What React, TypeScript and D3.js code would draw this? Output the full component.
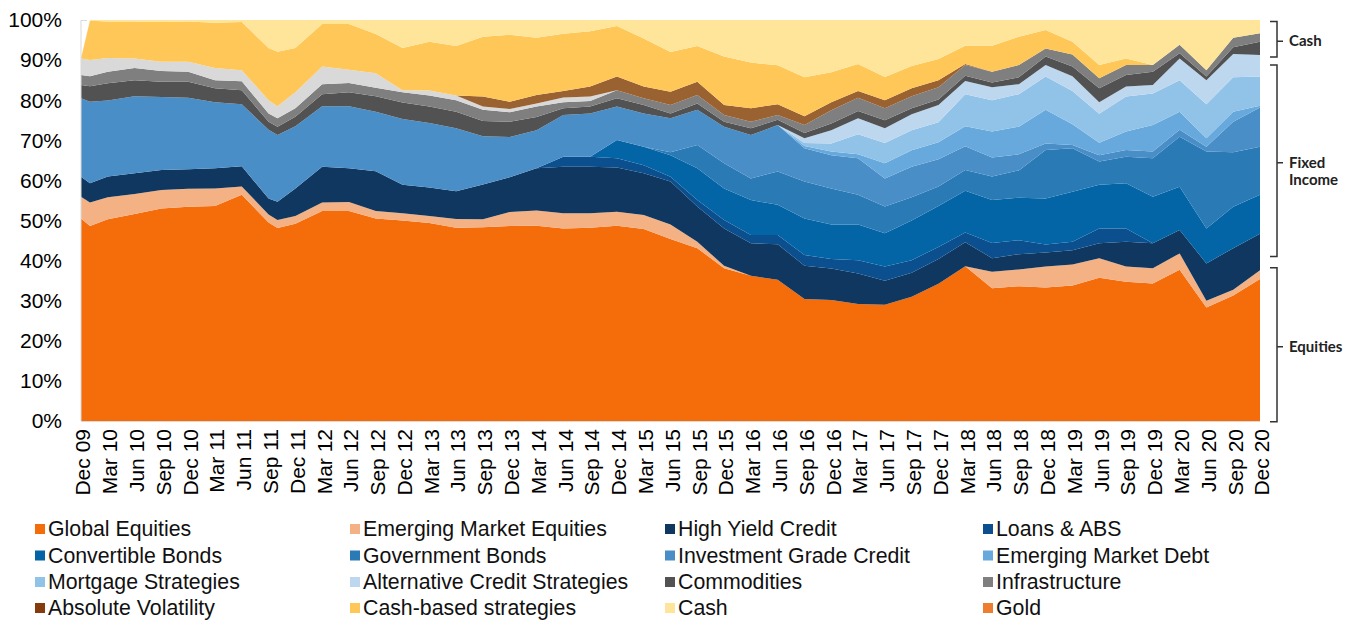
import React from 'react';
import * as d3 from 'd3';

// month index since Dec 09 for each data point
const MONTHS = [0,1,3,6,9,12,15,18,21,22,24,27,30,33,36,39,42,45,48,51,54,57,60,63,66,69,72,75,78,81,84,87,90,93,96,99,102,105,108,111,114,117,120,123,126,129,132];

const TICK_LABELS = ['Dec 09','Mar 10','Jun 10','Sep 10','Dec 10','Mar 11','Jun 11','Sep 11','Dec 11','Mar 12','Jun 12','Sep 12','Dec 12','Mar 13','Jun 13','Sep 13','Dec 13','Mar 14','Jun 14','Sep 14','Dec 14','Mar 15','Jun 15','Sep 15','Dec 15','Mar 16','Jun 16','Sep 16','Dec 16','Mar 17','Jun 17','Sep 17','Dec 17','Mar 18','Jun 18','Sep 18','Dec 18','Mar 19','Jun 19','Sep 19','Dec 19','Mar 20','Jun 20','Sep 20','Dec 20'];
const Y_TICKS = [0,10,20,30,40,50,60,70,80,90,100];

const GLOBAL_EQUITIES = [50.5,48.6,50.3,51.6,53.0,53.4,53.6,56.4,49.5,48.1,49.2,52.4,52.4,50.5,50.0,49.4,48.2,48.3,48.6,48.7,48.0,48.2,48.7,47.9,45.4,43.1,38.1,36.2,35.2,30.4,30.2,29.2,29.0,31.0,34.2,38.6,33.1,33.6,33.3,33.8,35.7,34.7,34.3,37.7,28.3,31.3,35.4];
const EM_EQUITIES = [5.4,5.9,5.5,5.0,4.6,4.5,4.4,2.1,2.0,2.0,1.9,2.1,2.2,1.9,1.8,1.7,2.2,2.0,3.5,3.8,3.8,3.6,3.5,3.5,3.6,1.6,0.6,0,0,0,0,0,0,0,0,0,4.1,4.2,5.2,5.2,4.9,3.8,3.8,4.1,1.7,1.4,2.2];
const HIGH_YIELD = [5.0,4.8,5.2,5.2,5.0,4.9,5.0,5.0,4.0,4.6,6.9,8.9,8.4,9.9,7.1,7.1,6.9,8.7,8.7,10.5,11.6,11.6,11.0,10.4,10.7,8.8,9.3,8.1,8.9,8.3,7.8,7.6,6.0,6.0,6.2,6.0,3.4,3.8,3.5,3.6,3.7,6.2,6.2,5.8,9.3,10.4,9.1];
const LOANS_ABS = [0,0,0,0,0,0,0,0,0,0,0,0,0,0,0,0,0,0,0,0,2.5,2.5,2.3,2.0,1.2,1.6,2.1,2.1,2.3,2.7,2.4,3.3,3.5,3.1,3.0,2.4,3.8,3.5,2.0,2.1,3.7,3.3,0,0,0,0,0];
const CONVERTIBLES = [0,0,0,0,0,0,0,0,0,0,0,0,0,0,0,0,0,0,0,0,0,0,4.6,4.6,5.4,7.9,7.9,8.7,7.5,9.1,8.6,8.9,8.3,9.9,10.2,10.4,10.7,10.6,11.5,12.5,10.9,11.3,11.6,10.8,8.7,10.3,9.7];
const GOV_BONDS = [0,0,0,0,0,0,0,0,0,0,0,0,0,0,0,0,0,0,0,0,0,0,0,0,0.7,5.8,6.3,5.4,8.3,9.2,9.0,7.4,6.7,5.8,4.9,5.2,5.9,6.8,12.1,10.8,5.8,6.6,9.6,12.5,19.2,13.6,12.0];
const IG_CREDIT = [19.6,20.3,18.9,19.2,18.2,17.8,16.5,15.5,17.1,16.6,15.5,15.1,15.5,14.8,16.4,16.1,15.7,12.0,10.0,9.5,10.4,10.8,8.3,8.3,8.5,8.8,9.1,10.8,11.6,8.3,8.3,9.1,7.0,7.6,6.8,5.9,4.7,4.0,1.6,0.8,1.6,1.7,1.7,1.7,1.2,7.6,9.8];
const EM_DEBT = [0,0,0,0,0,0,0,0,0,0,0,0,0,0,0,0,0,0,0,0,0,0,0,0,0,0,0,0,0,0.6,0.9,1.0,3.8,4.1,4.2,5.0,6.5,6.9,8.4,5.2,3.1,4.6,6.6,4.5,2.1,2.5,0.4];
const MORTGAGE = [0,0,0,0,0,0,0,0,0,0,0,0,0,0,0,0,0,0,0,0,0,0,0,0,0,0,0,0,0,0.7,2.0,5.0,5.0,5.0,5.0,8.0,7.8,8.1,8.3,8.3,7.2,8.7,7.9,7.9,8.5,8.6,7.3];
const ALT_CREDIT = [0,0,0,0,0,0,0,0,0,0,0,0,0,0,0,0,0,0,0,0,0,0,0,0,0,0,0,0,0,1.2,3.3,4.0,3.7,4.0,4.3,3.3,3.2,2.5,2.9,3.7,2.9,2.5,2.1,5.4,6.0,5.8,5.4];
const COMMODITIES = [3.3,3.9,4.3,4.0,3.8,4.0,3.5,3.5,2.0,2.1,2.4,3.0,3.5,3.9,4.1,4.1,4.1,3.8,3.8,3.3,1.7,1.7,2.1,2.1,1.2,1.6,1.2,1.7,1.3,1.3,1.7,1.8,2.0,1.5,1.4,1.3,1.2,1.7,2.1,2.4,3.5,2.9,3.3,1.3,0.9,1.7,3.3];
const INFRASTRUCTURE = [2.5,2.5,2.9,3.0,2.7,2.5,2.0,2.2,2.1,2.1,2.1,2.5,2.3,2.1,2.6,2.8,2.9,2.8,2.4,2.6,1.5,1.4,2.0,1.7,2.1,2.1,1.7,1.6,1.2,2.0,3.3,3.3,3.0,3.0,3.0,2.7,2.7,3.1,2.0,3.0,2.5,2.5,1.7,2.1,1.6,2.4,2.1];
const OTHER = [4.1,4.0,3.4,2.4,2.3,2.5,3.0,2.8,3.3,3.0,4.0,4.4,3.3,3.6,0.5,1.2,1.2,0.8,0.8,0.8,1.2,1.1,0,0,0,0,0,0,0,0,0,0,0,0,0,0,0,0,0,0,0,0,0,0,0,0,0];
const ABS_VOLATILITY = [0,0,0,0,0,0,0,0,0,0,0,0,0,0,0,0,0,2.5,1.8,2.1,1.6,2.5,3.4,2.9,3.3,3.3,2.5,3.4,2.7,2.2,2.0,1.7,2.0,2.0,1.8,0.2,0,0,0,0,0,0,0,0,0,0,0];
const CASH_BASED = [0,9.8,9.1,9.2,9.9,10.0,11.3,12.0,13.0,13.6,11.0,10.6,11.4,9.8,10.5,12.2,12.3,14.9,16.7,14.3,14.3,13.8,12.6,12.0,9.9,8.9,12.1,11.4,9.7,9.7,7.5,6.7,5.8,5.5,5.3,4.6,6.5,7.0,4.6,3.2,3.3,1.6,0,0,0,0,0];
const CASH = [0,0.2,0.4,0.4,0.5,0.4,0.7,0.5,7.0,7.9,7.0,1.0,1.0,3.5,7.0,5.4,6.5,4.2,3.7,4.4,3.4,2.8,1.5,4.6,8.0,6.5,9.1,10.6,11.3,14.3,13.0,11.0,14.2,11.5,9.7,6.4,6.4,4.2,2.5,5.4,11.2,9.6,11.2,6.2,12.5,4.4,3.3];
const GOLD = MONTHS.map(() => 0);

const SERIES = [
  { key: 'Global Equities', values: GLOBAL_EQUITIES, color: '#f56c0a' },
  { key: 'Emerging Market Equities', values: EM_EQUITIES, color: '#f4b183' },
  { key: 'High Yield Credit', values: HIGH_YIELD, color: '#10375f' },
  { key: 'Loans & ABS', values: LOANS_ABS, color: '#0b4f8e' },
  { key: 'Convertible Bonds', values: CONVERTIBLES, color: '#0465a6' },
  { key: 'Government Bonds', values: GOV_BONDS, color: '#2a7ab6' },
  { key: 'Investment Grade Credit', values: IG_CREDIT, color: '#4a8ec8' },
  { key: 'Emerging Market Debt', values: EM_DEBT, color: '#67a9dc' },
  { key: 'Mortgage Strategies', values: MORTGAGE, color: '#91c3e9' },
  { key: 'Alternative Credit Strategies', values: ALT_CREDIT, color: '#bdd7ee' },
  { key: 'Commodities', values: COMMODITIES, color: '#525252' },
  { key: 'Infrastructure', values: INFRASTRUCTURE, color: '#7f7f7f' },
  { key: 'Other', values: OTHER, color: '#d9d9d9' },
  { key: 'Absolute Volatility', values: ABS_VOLATILITY, color: '#9a6231' },
  { key: 'Cash-based strategies', values: CASH_BASED, color: '#fec758' },
  { key: 'Cash', values: CASH, color: '#fee599' },
  { key: 'Gold', values: GOLD, color: '#ed7d31' },
];

const LEGEND_ORDER = [
  'Global Equities', 'Emerging Market Equities', 'High Yield Credit', 'Loans & ABS',
  'Convertible Bonds', 'Government Bonds', 'Investment Grade Credit', 'Emerging Market Debt',
  'Mortgage Strategies', 'Alternative Credit Strategies', 'Commodities', 'Infrastructure',
  'Absolute Volatility', 'Cash-based strategies', 'Cash', 'Gold',
];
const LEGEND_COLORS: Record<string, string> = { 'Absolute Volatility': '#843c0c' };

const BRACKETS = [
  { lines: ['Cash'], from: 90.8, to: 99.6 },
  { lines: ['Fixed', 'Income'], from: 41.0, to: 88.8 },
  { lines: ['Equities'], from: -0.2, to: 38.2 },
];

export default function App() {
  const W = 1364, H = 621;
  const left = 81, right = 1260, top = 20, bottom = 421;
  const x = d3.scaleLinear().domain([0, 132]).range([left, right]);
  const y = d3.scaleLinear().domain([0, 100]).range([bottom, top]);

  const rows = MONTHS.map((m, i) => {
    const r: any = { m };
    SERIES.forEach(s => { r[s.key] = s.values[i]; });
    return r;
  });
  const stacked = d3.stack<any>().keys(SERIES.map(s => s.key))(rows);
  const area = d3.area<any>()
    .x(d => x(d.data.m))
    .y0(d => y(d[0]))
    .y1(d => y(d[1]))
    .curve(d3.curveLinear);

  const colorOf: Record<string, string> = {};
  SERIES.forEach(s => { colorOf[s.key] = s.color; });

  const legendCols = [35, 350, 665, 983];
  const legendRows = [529, 555.5, 582, 608];
  const bx = 1277;

  return (
    <svg width={W} height={H} style={{ position: 'absolute', left: 0, top: 0, background: '#fff' }}
      fontFamily="'Liberation Sans', Arial, sans-serif">
      <rect x={0} y={0} width={W} height={H} fill="#fff" />
      <line x1={left} x2={right} y1={top + 0.5} y2={top + 0.5} stroke="#d5dbe3" strokeWidth={1} strokeDasharray="6,4" />
      <g>
        {stacked.map((layer, i) => (
          <path key={SERIES[i].key} d={area(layer) || ''} fill={SERIES[i].color} stroke="none" />
        ))}
      </g>
      <line x1={left} x2={left} y1={top} y2={bottom} stroke="#d9d9d9" strokeWidth={1} />
      <line x1={left} x2={right} y1={bottom + 0.5} y2={bottom + 0.5} stroke="#d9d9d9" strokeWidth={1} />
      {Y_TICKS.map(t => (
        <text key={t} x={62} y={y(t)} dy="0.35em" textAnchor="end" fontSize={21} fill="#000">{t}%</text>
      ))}
      {TICK_LABELS.map((lab, i) => (
        <text key={lab} transform={`translate(${x(i * 3) + 2},${429}) rotate(-90)`} dy="0.35em"
          textAnchor="end" fontSize={21} fill="#000">{lab}</text>
      ))}
      {BRACKETS.map(b => {
        const y1 = y(b.to), y2 = y(b.from), ym = (y1 + y2) / 2 + 2;
        return (
          <g key={b.lines.join(' ')}>
            <path d={`M${bx - 7},${y1}H${bx}V${y2}H${bx - 7}M${bx},${ym}H${bx + 6}`}
              fill="none" stroke="#333" strokeWidth={1.5} />
            {b.lines.map((ln, k) => (
              <text key={ln} x={bx + 12} y={ym + k * 17} dy="0.35em"
                fontFamily="Lato, 'Open Sans', sans-serif" fontWeight={700} fontSize={15} fill="#222">{ln}</text>
            ))}
          </g>
        );
      })}
      {LEGEND_ORDER.map((name, i) => {
        const cx = legendCols[i % 4], cy = legendRows[Math.floor(i / 4)];
        return (
          <g key={name}>
            <rect x={cx} y={cy - 5} width={10} height={10} fill={LEGEND_COLORS[name] || colorOf[name]} />
            <text x={cx + 13} y={cy} dy="0.35em" fontSize={21.3} fill="#111">{name}</text>
          </g>
        );
      })}
    </svg>
  );
}
